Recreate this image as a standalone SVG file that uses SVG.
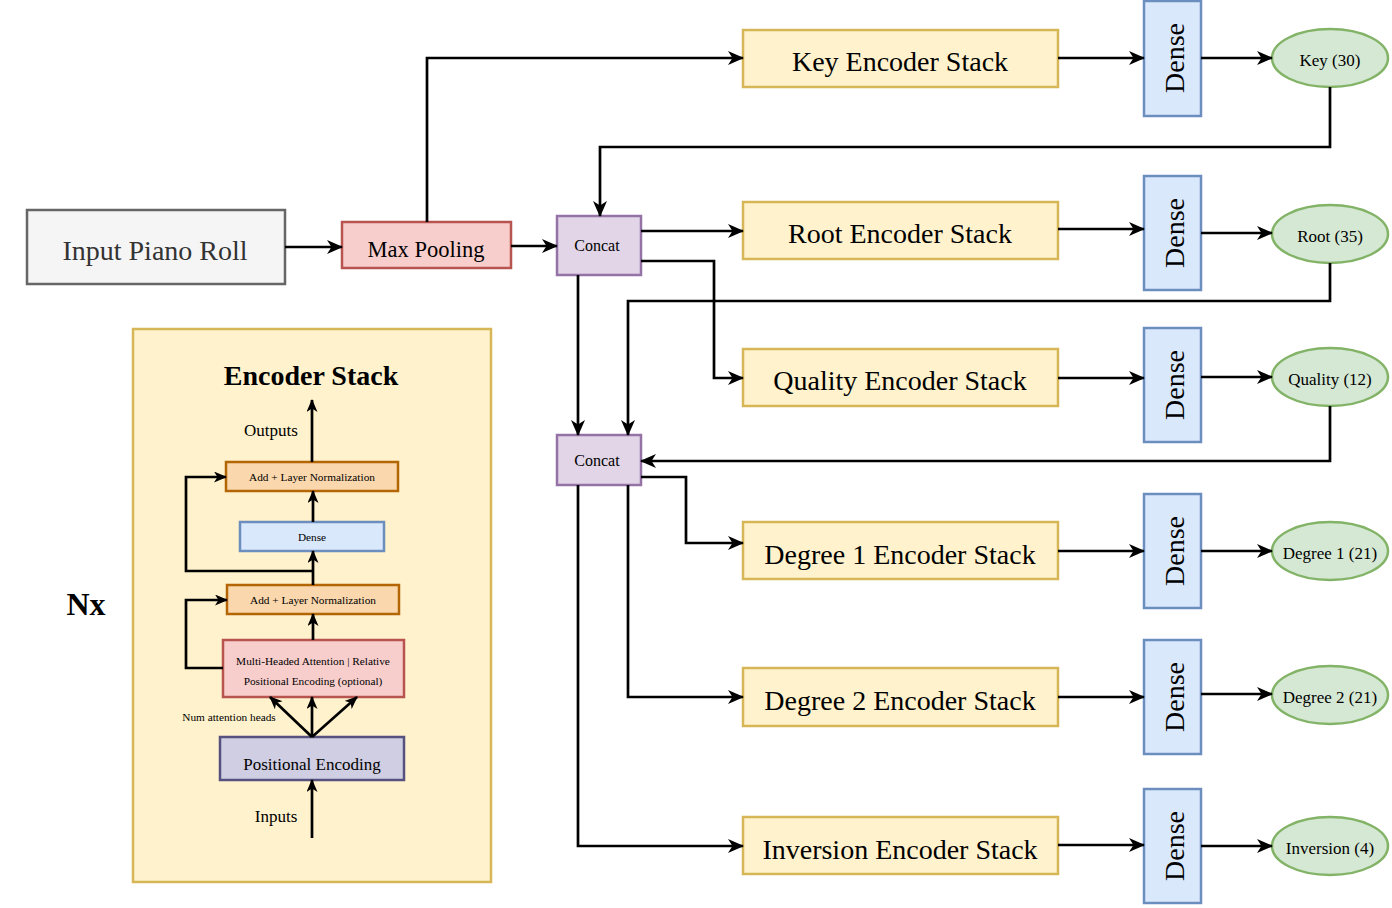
<svg xmlns="http://www.w3.org/2000/svg" width="1392" height="908" viewBox="0 0 1392 908">
<style>
text{font-family:"Liberation Serif","Times New Roman",serif;fill:#000;text-anchor:middle;dominant-baseline:central}
.stack{fill:#fff2cc;stroke:#d6b656;stroke-width:2.5}
.dense{fill:#dae8fc;stroke:#6c8ebf;stroke-width:2.5}
.out{fill:#d5e8d4;stroke:#82b366;stroke-width:2.5}
.concat{fill:#e1d5e7;stroke:#9673a6;stroke-width:2.5}
.ln{fill:#fad7ac;stroke:#b46504;stroke-width:2.5}
.st{font-size:28px}
.dt{font-size:28px}
.ot{font-size:17px}
.conn path{fill:none;stroke:#000;stroke-width:2.7}
</style>
<defs>
<marker id="arr" viewBox="0 0 16 14" refX="15" refY="7" markerWidth="16" markerHeight="14" markerUnits="userSpaceOnUse" orient="auto">
<path d="M0,0 L16,7 L0,14 L4.5,7 Z" fill="#000"/>
</marker>
<marker id="arrs" viewBox="0 0 13 11" refX="12" refY="5.5" markerWidth="13" markerHeight="11" markerUnits="userSpaceOnUse" orient="auto">
<path d="M0,0 L13,5.5 L0,11 L3.5,5.5 Z" fill="#000"/>
</marker>
</defs>

<g id="encoder-panel">
<rect x="133" y="329" width="358" height="553" fill="#fff2cc" stroke="#d6b656" stroke-width="2.5"/>
<text x="311" y="375" font-size="28" font-weight="bold">Encoder Stack</text>
<text x="271" y="430" font-size="17">Outputs</text>
<text x="276" y="816" font-size="17">Inputs</text>
<text x="229" y="717" font-size="11.3">Num attention heads</text>
</g>
<g id="nx"><text x="86" y="604" font-size="32" font-weight="bold">Nx</text></g>

<g id="addln-top"><rect class="ln" x="226" y="462" width="172" height="29"/><text x="312" y="477" font-size="11.3">Add + Layer Normalization</text></g>
<g id="dense-inner"><rect class="dense" x="240" y="522" width="144" height="29"/><text x="312" y="537" font-size="11.3">Dense</text></g>
<g id="addln-bottom"><rect class="ln" x="227" y="585" width="172" height="29"/><text x="313" y="600" font-size="11.3">Add + Layer Normalization</text></g>
<g id="mha"><rect x="223" y="640" width="181" height="57" fill="#f8cecc" stroke="#b85450" stroke-width="2.5"/>
<text x="313" y="661" font-size="11.3">Multi-Headed Attention | Relative</text>
<text x="313" y="681" font-size="11.3">Positional Encoding (optional)</text></g>
<g id="posenc"><rect x="220" y="737" width="184" height="43" fill="#d0cee2" stroke="#56517e" stroke-width="2.5"/><text x="312" y="764" font-size="17">Positional Encoding</text></g>

<g id="input"><rect x="27" y="210" width="258" height="74" fill="#f5f5f5" stroke="#666666" stroke-width="2.5"/><text x="155" y="250" font-size="28" style="fill:#333333">Input Piano Roll</text></g>
<g id="maxpool"><rect x="342" y="222" width="169" height="46" fill="#f8cecc" stroke="#b85450" stroke-width="2.5"/><text x="426" y="249" font-size="22.5">Max Pooling</text></g>
<g id="concat1"><rect class="concat" x="557" y="216" width="84" height="59"/><text x="597" y="245" font-size="16">Concat</text></g>
<g id="concat2"><rect class="concat" x="557" y="435" width="84" height="50"/><text x="597" y="460" font-size="16">Concat</text></g>

<g id="key-stack"><rect class="stack" x="743" y="30" width="315" height="57"/><text class="st" x="900" y="61">Key Encoder Stack</text></g>
<g id="root-stack"><rect class="stack" x="743" y="202" width="315" height="57"/><text class="st" x="900" y="233">Root Encoder Stack</text></g>
<g id="quality-stack"><rect class="stack" x="743" y="349" width="315" height="57"/><text class="st" x="900" y="380">Quality Encoder Stack</text></g>
<g id="degree1-stack"><rect class="stack" x="743" y="522" width="315" height="57"/><text class="st" x="900" y="554">Degree 1 Encoder Stack</text></g>
<g id="degree2-stack"><rect class="stack" x="743" y="668" width="315" height="58"/><text class="st" x="900" y="700">Degree 2 Encoder Stack</text></g>
<g id="inversion-stack"><rect class="stack" x="743" y="817" width="315" height="57"/><text class="st" x="900" y="849">Inversion Encoder Stack</text></g>

<g id="dense-key"><rect class="dense" x="1144" y="1" width="57" height="115"/><text class="dt" transform="translate(1174,58) rotate(-90)">Dense</text></g>
<g id="dense-root"><rect class="dense" x="1144" y="176" width="57" height="114"/><text class="dt" transform="translate(1174,233) rotate(-90)">Dense</text></g>
<g id="dense-quality"><rect class="dense" x="1144" y="328" width="57" height="114"/><text class="dt" transform="translate(1174,385) rotate(-90)">Dense</text></g>
<g id="dense-degree1"><rect class="dense" x="1144" y="494" width="57" height="114"/><text class="dt" transform="translate(1174,551) rotate(-90)">Dense</text></g>
<g id="dense-degree2"><rect class="dense" x="1144" y="640" width="57" height="114"/><text class="dt" transform="translate(1174,697) rotate(-90)">Dense</text></g>
<g id="dense-inversion"><rect class="dense" x="1144" y="789" width="57" height="114"/><text class="dt" transform="translate(1174,846) rotate(-90)">Dense</text></g>

<g id="out-key"><ellipse class="out" cx="1330" cy="58" rx="58" ry="29"/><text class="ot" x="1330" y="60">Key (30)</text></g>
<g id="out-root"><ellipse class="out" cx="1330" cy="234" rx="58" ry="29"/><text class="ot" x="1330" y="236">Root (35)</text></g>
<g id="out-quality"><ellipse class="out" cx="1330" cy="377" rx="58" ry="29"/><text class="ot" x="1330" y="379">Quality (12)</text></g>
<g id="out-degree1"><ellipse class="out" cx="1330" cy="551" rx="58" ry="29"/><text class="ot" x="1330" y="553">Degree 1 (21)</text></g>
<g id="out-degree2"><ellipse class="out" cx="1330" cy="695" rx="58" ry="29"/><text class="ot" x="1330" y="697">Degree 2 (21)</text></g>
<g id="out-inversion"><ellipse class="out" cx="1330" cy="846" rx="58" ry="29"/><text class="ot" x="1330" y="848">Inversion (4)</text></g>

<g id="connectors" class="conn">
<path d="M285,247 H342" marker-end="url(#arr)"/>
<path d="M511,246 H557" marker-end="url(#arr)"/>
<path d="M427,222 V58 H743" marker-end="url(#arr)"/>
<path d="M1058,58 H1144" marker-end="url(#arr)"/>
<path d="M1201,58 H1272" marker-end="url(#arr)"/>
<path d="M1330,87 V147 H600 V216" marker-end="url(#arr)"/>
<path d="M641,231 H743" marker-end="url(#arr)"/>
<path d="M641,261 H714 V378 H743" marker-end="url(#arr)"/>
<path d="M578,275 V435" marker-end="url(#arr)"/>
<path d="M1330,263 V301 H628 V435" marker-end="url(#arr)"/>
<path d="M1330,406 V461 H641" marker-end="url(#arr)"/>
<path d="M641,477 H686 V543 H743" marker-end="url(#arr)"/>
<path d="M628,485 V697 H743" marker-end="url(#arr)"/>
<path d="M578,485 V846 H743" marker-end="url(#arr)"/>
<path d="M1058,229 H1144" marker-end="url(#arr)"/>
<path d="M1058,378 H1144" marker-end="url(#arr)"/>
<path d="M1058,551 H1144" marker-end="url(#arr)"/>
<path d="M1058,697 H1144" marker-end="url(#arr)"/>
<path d="M1058,845 H1144" marker-end="url(#arr)"/>
<path d="M1201,233 H1272" marker-end="url(#arr)"/>
<path d="M1201,377 H1272" marker-end="url(#arr)"/>
<path d="M1201,551 H1272" marker-end="url(#arr)"/>
<path d="M1201,694 H1272" marker-end="url(#arr)"/>
<path d="M1201,846 H1272" marker-end="url(#arr)"/>
<path d="M312,462 V400" marker-end="url(#arrs)"/>
<path d="M313,522 V491" marker-end="url(#arrs)"/>
<path d="M313,585 V551" marker-end="url(#arrs)"/>
<path d="M313,571 H186 V477 H226" marker-end="url(#arrs)"/>
<path d="M313,640 V614" marker-end="url(#arrs)"/>
<path d="M223,668 H186 V600 H227" marker-end="url(#arrs)"/>
<path d="M312,737 L270,697" marker-end="url(#arrs)"/>
<path d="M312,737 V697" marker-end="url(#arrs)"/>
<path d="M312,737 L357,697" marker-end="url(#arrs)"/>
<path d="M312,838 V780" marker-end="url(#arrs)"/>
</g>
</svg>
